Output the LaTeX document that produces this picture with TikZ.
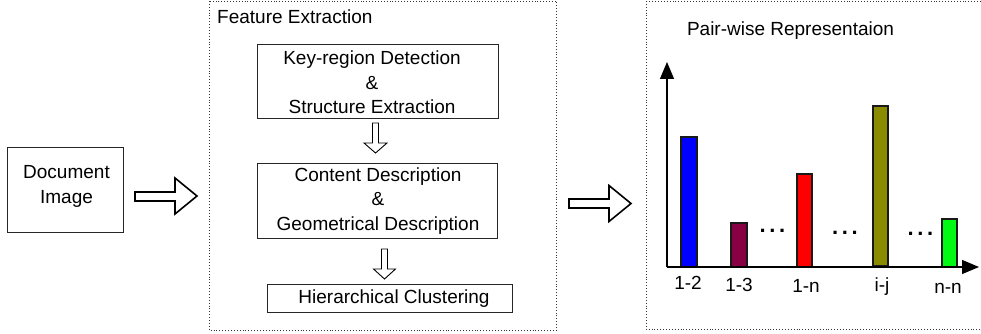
\documentclass[tikz,border=0pt]{standalone}
\usepackage{fontspec}
\setmainfont{Liberation Sans}
\usetikzlibrary{arrows.meta}
\newcommand{\spreaddots}{.\hspace{3.6pt}.\hspace{3.6pt}.}
\begin{document}
\begin{tikzpicture}[x=1pt,y=-1pt,
  every node/.style={font=\fontsize{19}{24.5}\selectfont, inner sep=0pt, align=center},
  procbox/.style={draw=black!85, line width=0.9pt, fill=white},
  groupbox/.style={draw=black!80, dotted, line width=0.9pt},
  hollow/.style={draw=black, line width=1.6pt, fill=white, line join=miter},
  hollowthin/.style={draw=black, line width=0.9pt, fill=white, line join=miter},
  axis/.style={draw=black, line width=1.1pt, -{Triangle[length=17pt,width=14pt]}},
  bar/.style={draw=black!90, line width=1.1pt},
  tick/.style={font=\fontsize{19}{22}\selectfont},
  dots/.style={font=\fontsize{22}{22}\selectfont\bfseries}
]
\useasboundingbox (0,0) rectangle (981,334);

% input
\node[procbox, minimum width=116pt, minimum height=85pt] (doc) at (65,189.5) {};
\node at (66.5,186.5) (doctext) {Document\\Image};

% feature extraction group
\draw[groupbox] (209,1) rectangle (556.5,330);
\node[anchor=west] (fetitle) at (217,16.5) {Feature Extraction};

\node[procbox, minimum width=241pt, minimum height=74pt] (keyreg) at (377.5,81) {};
\node (keyregtext) at (372,82.5) {Key-region Detection\\\&\\Structure Extraction};

\node[procbox, minimum width=240pt, minimum height=75pt] (content) at (377,200.5) {};
\node (contenttext) at (378,201) {Content Description\\\&\\Geometrical Description};

\node[procbox, minimum width=245pt, minimum height=28pt] (hier) at (389.5,298) {};
\node (hiertext) at (394,298.5) {Hierarchical Clustering};

% block arrows between stages
\draw[hollow] (135,192) -- (175,192) -- (175,178) -- (197,196) -- (175,214) -- (175,201) -- (135,201) -- cycle;
\draw[hollowthin] (372.5,123) -- (378.5,123) -- (378.5,143) -- (387,143) -- (375.5,153) -- (364,143) -- (372.5,143) -- cycle;
\draw[hollowthin] (381.5,249) -- (387.5,249) -- (387.5,269) -- (395.5,269) -- (384.5,279) -- (373.5,269) -- (381.5,269) -- cycle;
\draw[hollow] (569,199) -- (609,199) -- (609,185.5) -- (631,203.5) -- (609,221.5) -- (609,208) -- (569,208) -- cycle;

% pair-wise representation group
\draw[groupbox] (646,1) rectangle (990,329);
\node (pwtitle) at (790.5,31) {Pair-wise Representaion};

\coordinate (origin) at (667,267);
\coordinate (ytip) at (667,62);
\coordinate (xtip) at (979,267);

\fill[blue] (681,137) rectangle (697,267);
\draw[bar] (681,267) -- (681,137) -- (697,137) -- (697,267);
\fill[fill={rgb,255:red,136;green,0;blue,68}] (731,223) rectangle (747,267);
\draw[bar] (731,267) -- (731,223) -- (747,223) -- (747,267);
\fill[red] (797,174) rectangle (812,267);
\draw[bar] (797,267) -- (797,174) -- (812,174) -- (812,267);
\fill[fill={rgb,255:red,139;green,139;blue,0}] (873,106) rectangle (888,266);
\draw[bar, line width=2pt] (873,266) -- (873,106) -- (888,106) -- (888,266) -- cycle;
\fill[fill={rgb,255:red,0;green,250;blue,20}] (942,219) rectangle (957,267);
\draw[bar] (942,267) -- (942,219) -- (957,219) -- (957,267);

\draw[axis] (origin) -- (ytip);
\draw[axis] (origin) -- (xtip);

\node[dots] (d1) at (772.5,231) {\spreaddots};
\node[dots] (d2) at (845,233) {\spreaddots};
\node[dots] (d3) at (920.5,234) {\spreaddots};

\node[tick] (l12) at (688,283) {1-2};
\node[tick] (l13) at (739,285) {1-3};
\node[tick] (l1n) at (806,286) {1-n};
\node[tick] (lij) at (882,287) {i-j};
\node[tick] (lnn) at (948,288) {n-n};
\end{tikzpicture}
\end{document}
